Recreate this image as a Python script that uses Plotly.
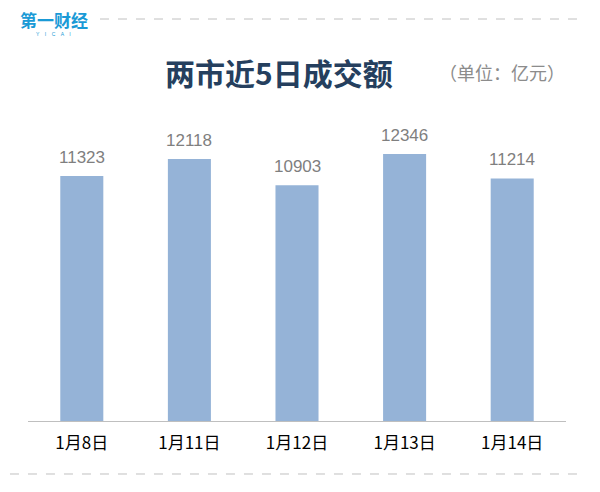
import plotly.graph_objects as go

dates = ["1月8日", "1月11日", "1月12日", "1月13日", "1月14日"]
turnover = [11323, 12118, 10903, 12346, 11214]

title_text = "两市近5日成交额"
unit_text = "（单位：亿元）"

fig = go.Figure()
fig.add_trace(go.Bar(x=dates, y=turnover, marker=dict(color="#95b3d7", line=dict(width=0)),
                     hoverinfo="x+y"))

for d, v in zip(dates, turnover):
    fig.add_annotation(x=d, y=v, text=str(v), showarrow=False, yanchor="bottom", yshift=7,
                       font=dict(family="Liberation Sans, Arial", size=17, color="#7f7f7f"))

fig.add_annotation(xref="paper", yref="paper", x=0.4665, y=1.0872, text="<b>" + title_text + "</b>",
                   showarrow=False, xanchor="center", yanchor="middle",
                   font=dict(family="Noto Sans CJK SC", size=30, color="#253f5e"))
fig.add_annotation(xref="paper", yref="paper", x=0.881, y=1.0872, text=unit_text,
                   showarrow=False, xanchor="center", yanchor="middle",
                   font=dict(family="Noto Sans CJK SC", size=18, color="#8c8c8c"))
fig.add_annotation(xref="paper", yref="paper", x=0.0483, y=1.2523, text="<b>第一财经</b>",
                   showarrow=False, xanchor="center", yanchor="middle", borderpad=0,
                   font=dict(family="Noto Sans CJK SC", size=17, color="#1a9ad6"))
fig.add_annotation(xref="paper", yref="paper", x=0.0483, y=1.2056, text="Y    I    C    A    I",
                   showarrow=False, xanchor="center", yanchor="middle", borderpad=0,
                   font=dict(family="Liberation Sans", size=5, color="#1a9ad6"))

fig.add_shape(type="line", xref="paper", yref="paper", x0=0.1338, x1=1.0353, y0=1.2523, y1=1.2523,
              line=dict(color="#c0c0c0", width=1, dash="dash"))
fig.add_shape(type="line", xref="paper", yref="paper", x0=-0.0335, x1=1.0353, y0=-0.1651, y1=-0.1651,
              line=dict(color="#c0c0c0", width=1, dash="dash"))

fig.update_layout(
    width=600, height=492,
    margin=dict(l=20, r=42, t=92, b=79),
    paper_bgcolor="white", plot_bgcolor="white",
    bargap=0.6, showlegend=False,
    xaxis=dict(showline=True, linecolor="#bfbfbf", linewidth=1, ticks="outside", ticklen=7,
               tickcolor="rgba(0,0,0,0)", tickfont=dict(family="Noto Sans CJK SC", size=17, color="#000000"),
               showgrid=False, zeroline=False),
    yaxis=dict(range=[0, 14840], visible=False, showgrid=False, zeroline=False),
)

fig.write_html("out.html")
